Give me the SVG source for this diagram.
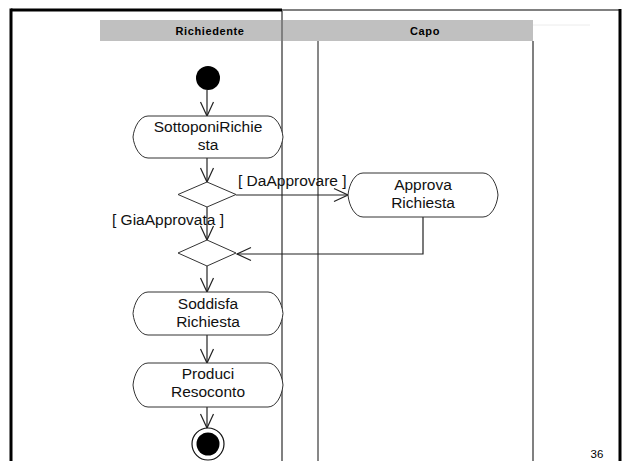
<svg xmlns="http://www.w3.org/2000/svg" width="623" height="461" viewBox="0 0 623 461">
  <style>
    .lbl { font-family: "Liberation Sans", Arial, sans-serif; font-size: 15.5px; fill: #111; }
    .hdr { font-family: "Liberation Sans", Arial, sans-serif; font-size: 11px; font-weight: bold; fill: #000; letter-spacing: 0.6px; }
    .act { fill: #fff; stroke: #333; stroke-width: 1; }
    .dec { fill: #fff; stroke: #333; stroke-width: 1; }
    .con { fill: none; stroke: #222; stroke-width: 1.2; }
  </style>
  <defs>
    <marker id="open" markerUnits="userSpaceOnUse" viewBox="-16 -8 18 16" refX="0" refY="0" markerWidth="18" markerHeight="16" orient="auto">
      <path d="M -14 -6.5 L 0 0 L -14 6.5" fill="none" stroke="#222" stroke-width="1.2"/>
    </marker>
  </defs>

  <rect width="623" height="461" fill="#fff"/>

  <!-- frame and swimlanes -->
  <g id="swimlanes">
    <rect x="100" y="20" width="433" height="21" fill="#c0c0c0"/>
    <line x1="533" y1="25" x2="590" y2="25" stroke="#ececec" stroke-width="1"/>
    <line x1="282" y1="10" x2="282" y2="461" stroke="#808080" stroke-width="2"/>
    <line x1="318" y1="41" x2="318" y2="461" stroke="#111" stroke-width="1"/>
    <line x1="533" y1="41" x2="533" y2="461" stroke="#808080" stroke-width="2"/>
    <line x1="282" y1="10" x2="620" y2="10" stroke="#808080" stroke-width="2"/>
    <line x1="11" y1="10" x2="282" y2="10" stroke="#000" stroke-width="3"/>
    <line x1="11" y1="8.5" x2="11" y2="461" stroke="#000" stroke-width="3"/>
    <line x1="620" y1="9" x2="620" y2="461" stroke="#000" stroke-width="3"/>
    <text class="hdr" x="210" y="35" text-anchor="middle">Richiedente</text>
    <text class="hdr" x="425" y="35" text-anchor="middle">Capo</text>
  </g>

  <!-- connectors -->
  <g id="connectors">
    <line class="con" x1="207" y1="90" x2="207" y2="116" marker-end="url(#open)"/>
    <line class="con" x1="207" y1="158" x2="207" y2="182" marker-end="url(#open)"/>
    <line class="con" x1="236" y1="195" x2="348" y2="195" marker-end="url(#open)"/>
    <line class="con" x1="207" y1="207" x2="207" y2="240" marker-end="url(#open)"/>
    <polyline class="con" points="423,217 423,254 237,254" marker-end="url(#open)"/>
    <line class="con" x1="207" y1="266" x2="207" y2="292" marker-end="url(#open)"/>
    <line class="con" x1="207" y1="335" x2="207" y2="363" marker-end="url(#open)"/>
    <line class="con" x1="207" y1="407" x2="207" y2="428" marker-end="url(#open)"/>
    <text class="lbl" x="238" y="186">[ DaApprovare ]</text>
    <text class="lbl" x="112" y="225">[ GiaApprovata ]</text>
  </g>

  <g id="start">
    <circle cx="208" cy="78" r="12" fill="#000"/>
  </g>

  <!-- action states: flat top and bottom, bowed ends meeting in a soft point -->
  <g id="sottoponi-richiesta">
    <path class="act" d="M148,116 H268 C276,116 282,127 283,137 C282,147 276,158 268,158 H148 C140,158 134,147 133,137 C134,127 140,116 148,116 Z"/>
    <text class="lbl" x="208" y="132" text-anchor="middle">SottoponiRichie</text>
    <text class="lbl" x="208" y="150" text-anchor="middle">sta</text>
  </g>

  <g id="decisione">
    <polygon class="dec" points="207,182 236,194.5 207,207 178,194.5"/>
  </g>

  <g id="approva-richiesta">
    <path class="act" d="M363,173 H483 C491,173 497,184 498,195 C497,206 491,217 483,217 H363 C355,217 349,206 348,195 C349,184 355,173 363,173 Z"/>
    <text class="lbl" x="423" y="190" text-anchor="middle">Approva</text>
    <text class="lbl" x="423" y="208" text-anchor="middle">Richiesta</text>
  </g>

  <g id="fusione">
    <polygon class="dec" points="207,240 236,253 207,266 178,253"/>
  </g>

  <g id="soddisfa-richiesta">
    <path class="act" d="M148,292 H268 C276,292 282,303 283,313.5 C282,324 276,335 268,335 H148 C140,335 134,324 133,313.5 C134,303 140,292 148,292 Z"/>
    <text class="lbl" x="208" y="309" text-anchor="middle">Soddisfa</text>
    <text class="lbl" x="208" y="327" text-anchor="middle">Richiesta</text>
  </g>

  <g id="produci-resoconto">
    <path class="act" d="M148,363 H268 C276,363 282,374 283,385 C282,396 276,407 268,407 H148 C140,407 134,396 133,385 C134,374 140,363 148,363 Z"/>
    <text class="lbl" x="208" y="379" text-anchor="middle">Produci</text>
    <text class="lbl" x="208" y="397" text-anchor="middle">Resoconto</text>
  </g>

  <g id="end">
    <circle cx="208" cy="444" r="16" fill="#fff" stroke="#111" stroke-width="1.2"/>
    <circle cx="208" cy="444" r="11.5" fill="#000"/>
  </g>

  <text x="597" y="458" text-anchor="middle" font-family="'Liberation Sans', Arial, sans-serif" font-size="11.5" fill="#000">36</text>
</svg>
